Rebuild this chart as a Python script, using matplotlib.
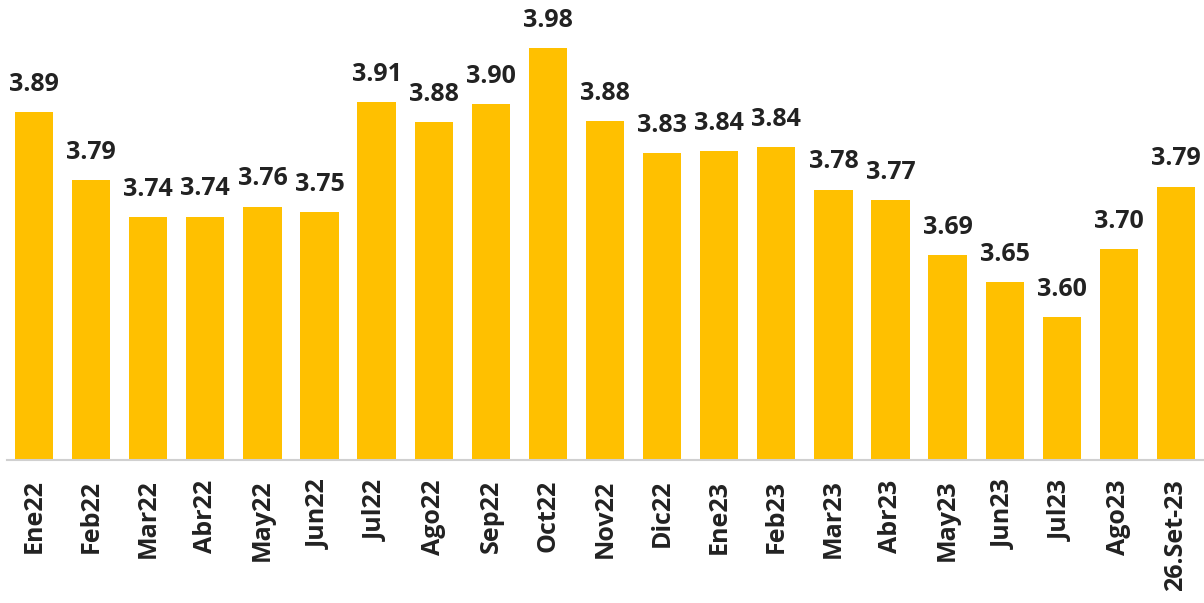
import matplotlib
matplotlib.use("Agg")
import matplotlib.pyplot as plt

categories = ["Ene22", "Feb22", "Mar22", "Abr22", "May22", "Jun22", "Jul22", "Ago22",
              "Sep22", "Oct22", "Nov22", "Dic22", "Ene23", "Feb23", "Mar23", "Abr23",
              "May23", "Jun23", "Jul23", "Ago23", "26.Set-23"]
values = [3.890, 3.794, 3.742, 3.743, 3.757, 3.749, 3.904, 3.876, 3.901, 3.980, 3.877, 3.832,
          3.835, 3.841, 3.781, 3.766, 3.689, 3.651, 3.601, 3.697, 3.785]
labels = ["3.89", "3.79", "3.74", "3.74", "3.76", "3.75", "3.91", "3.88", "3.90", "3.98",
          "3.88", "3.83", "3.84", "3.84", "3.78", "3.77", "3.69", "3.65", "3.60", "3.70", "3.79"]

plt.rcParams['font.family'] = ['Open Sans', 'DejaVu Sans']

fig = plt.figure(figsize=(12.04, 6.03), dpi=100)
ax = fig.add_axes([0.0055, 0.237, 0.994, 0.763])
x = list(range(len(categories)))
ax.bar(x, values, width=0.67, color="#FFC000", zorder=2)
ax.set_ylim(3.40, 4.048)
ax.set_xlim(-0.48, 20.48)

for xi, v, lab in zip(x, values, labels):
    ax.annotate(lab, (xi, v), xytext=(0, 11), textcoords="offset points",
                ha="center", va="bottom", fontsize=18, fontweight="bold", color="#222222")

ax.set_xticks(x)
ax.set_xticklabels(categories, rotation=90, fontsize=18, fontweight="bold",
                   color="#222222", va="top", ha="center")
ax.tick_params(axis="x", length=0, pad=14)
ax.set_yticks([])
for s in ["top", "right", "left"]:
    ax.spines[s].set_visible(False)
ax.spines["bottom"].set_color("#d0d0d0")
ax.spines["bottom"].set_linewidth(1.5)

fig.savefig("out.png", dpi=100)
